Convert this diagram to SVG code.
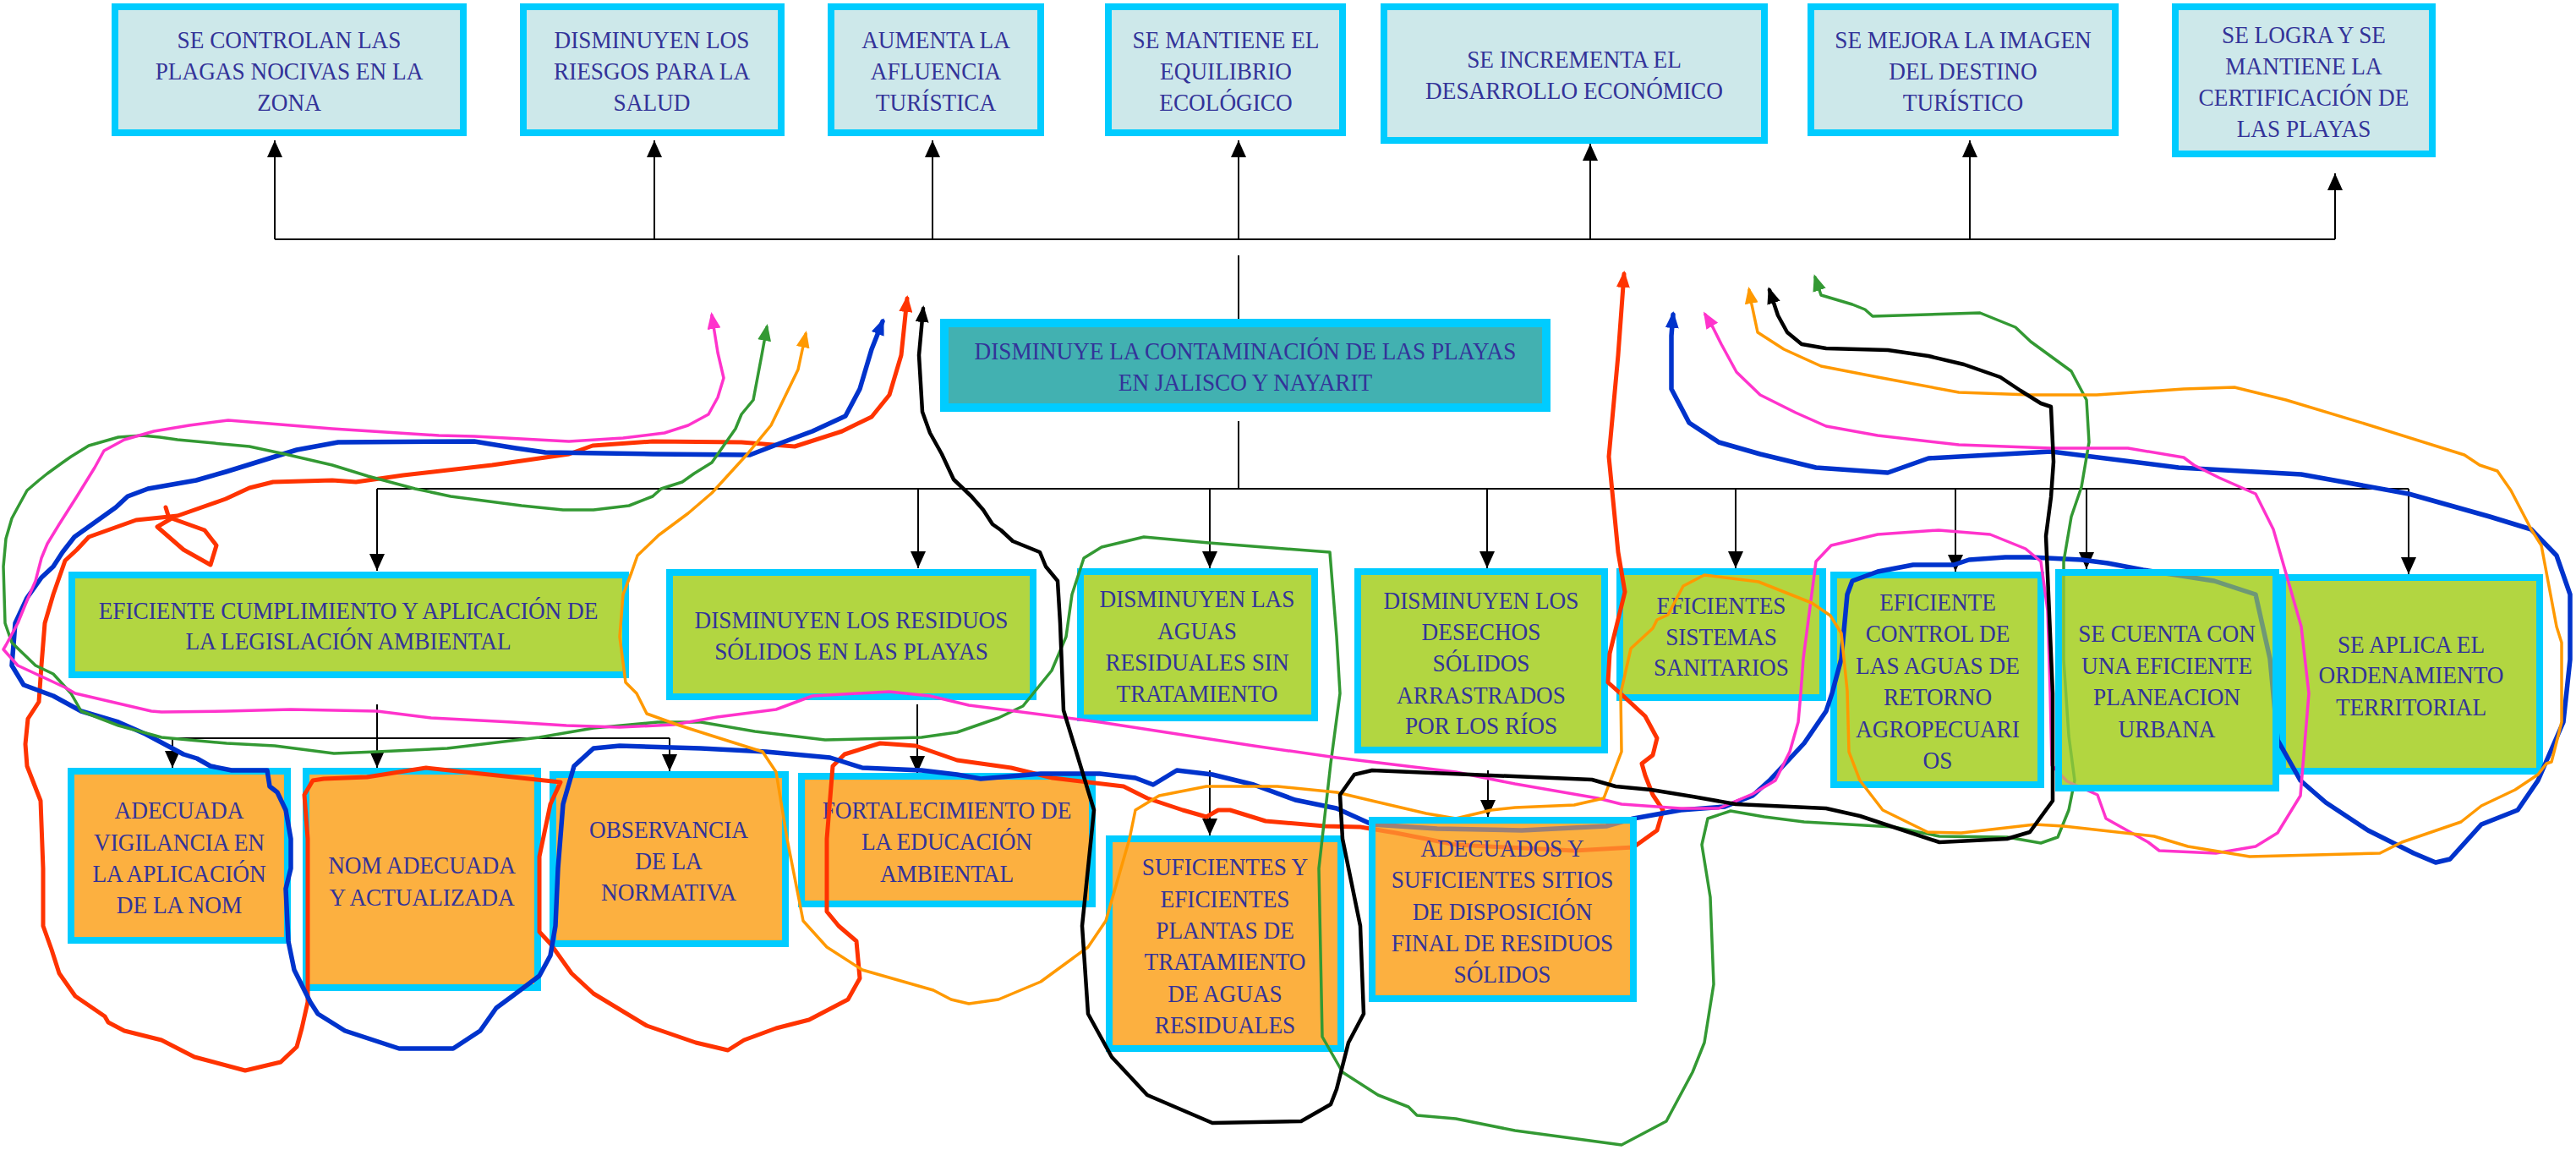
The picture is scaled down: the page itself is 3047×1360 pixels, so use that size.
<svg xmlns="http://www.w3.org/2000/svg" width="3047" height="1360" viewBox="0 0 3047 1360">
<style>
.t{font-family:"Liberation Serif","Times New Roman",serif;font-size:29px;fill:#333399;text-anchor:middle}
.bt{fill:#cde8ea;stroke:#00ccff;stroke-width:8}
.bc{fill:#42b1b1;stroke:#00ccff;stroke-width:10}
.bg{fill:#b2d641;stroke:#00ccff;stroke-width:8}
.bo{fill:#fcb040;stroke:#00ccff;stroke-width:8}
.bgt{fill:#b2d641;fill-opacity:0.62;stroke:#00ccff;stroke-width:8}
.bot{fill:#fcb040;fill-opacity:0.62;stroke:#00ccff;stroke-width:8}
.c{stroke:#000;stroke-width:2;fill:none}
.ca{stroke:#000;stroke-width:2;fill:none;marker-end:url(#ah)}
.lp{fill:none;stroke-linejoin:round;stroke-linecap:round}
</style>
<defs>
<marker id="ah" viewBox="0 0 20 18" refX="20" refY="9" markerWidth="20" markerHeight="18" markerUnits="userSpaceOnUse" orient="auto"><path d="M0,0 L20,9 L0,18 z" fill="#000"/></marker>
<marker id="mr" viewBox="0 0 20 16" refX="16" refY="8" markerWidth="20" markerHeight="16" markerUnits="userSpaceOnUse" orient="auto-start-reverse"><path d="M0,0 L20,8 L0,16 z" fill="#ff3300"/></marker>
<marker id="mb" viewBox="0 0 20 16" refX="16" refY="8" markerWidth="20" markerHeight="16" markerUnits="userSpaceOnUse" orient="auto-start-reverse"><path d="M0,0 L20,8 L0,16 z" fill="#0033cc"/></marker>
<marker id="mg" viewBox="0 0 20 16" refX="16" refY="8" markerWidth="20" markerHeight="16" markerUnits="userSpaceOnUse" orient="auto-start-reverse"><path d="M0,0 L20,8 L0,16 z" fill="#339933"/></marker>
<marker id="mp" viewBox="0 0 20 16" refX="16" refY="8" markerWidth="20" markerHeight="16" markerUnits="userSpaceOnUse" orient="auto-start-reverse"><path d="M0,0 L20,8 L0,16 z" fill="#ff33cc"/></marker>
<marker id="mo" viewBox="0 0 20 16" refX="16" refY="8" markerWidth="20" markerHeight="16" markerUnits="userSpaceOnUse" orient="auto-start-reverse"><path d="M0,0 L20,8 L0,16 z" fill="#ff9900"/></marker>
<marker id="mk" viewBox="0 0 20 16" refX="16" refY="8" markerWidth="20" markerHeight="16" markerUnits="userSpaceOnUse" orient="auto-start-reverse"><path d="M0,0 L20,8 L0,16 z" fill="#000"/></marker>
</defs>
<rect width="3047" height="1360" fill="#fff"/>

<g id="connectors">
<path class="c" d="M325,283 H2762" stroke-width="3"/>
<path class="ca" d="M325,283 V166"/>
<path class="ca" d="M774,283 V166"/>
<path class="ca" d="M1103,283 V166"/>
<path class="ca" d="M1465,283 V166"/>
<path class="ca" d="M1881,283 V170"/>
<path class="ca" d="M2330,283 V166"/>
<path class="ca" d="M2762,283 V205"/>
<path class="c" d="M1465,302 V377 M1465,498 V578"/>
<path class="c" d="M446,578 H2849" stroke-width="3"/>
<path class="ca" d="M446,578 V675"/>
<path class="ca" d="M1086,578 V672"/>
<path class="ca" d="M1431,578 V672"/>
<path class="ca" d="M1759,578 V672"/>
<path class="ca" d="M2053,578 V672"/>
<path class="ca" d="M2313,578 V676"/>
<path class="ca" d="M2468,578 V673"/>
<path class="ca" d="M2849,578 V679"/>
<path class="ca" d="M446,833 V908"/>
<path class="c" d="M204,873 H792"/>
<path class="ca" d="M204,873 V908"/>
<path class="ca" d="M792,873 V912"/>
<path class="ca" d="M1085,833 V914"/>
<path class="ca" d="M1431,911 V988"/>
<path class="ca" d="M1760,911 V966"/>
</g>

<g id="n-t1"><rect class="bt" x="136" y="8" width="412" height="149"/><g transform="translate(342 0) scale(0.94 1)"><text class="t"><tspan x="0" y="57">SE CONTROLAN LAS</tspan><tspan x="0" y="94">PLAGAS NOCIVAS EN LA</tspan><tspan x="0" y="131">ZONA</tspan></text></g></g>
<g id="n-t2"><rect class="bt" x="619" y="8" width="305" height="149"/><g transform="translate(771 0) scale(0.94 1)"><text class="t"><tspan x="0" y="57">DISMINUYEN LOS</tspan><tspan x="0" y="94">RIESGOS PARA LA</tspan><tspan x="0" y="131">SALUD</tspan></text></g></g>
<g id="n-t3"><rect class="bt" x="983" y="8" width="248" height="149"/><g transform="translate(1107 0) scale(0.94 1)"><text class="t"><tspan x="0" y="57">AUMENTA LA</tspan><tspan x="0" y="94">AFLUENCIA</tspan><tspan x="0" y="131">TURÍSTICA</tspan></text></g></g>
<g id="n-t4"><rect class="bt" x="1311" y="8" width="277" height="149"/><g transform="translate(1450 0) scale(0.94 1)"><text class="t"><tspan x="0" y="57">SE MANTIENE EL</tspan><tspan x="0" y="94">EQUILIBRIO</tspan><tspan x="0" y="131">ECOLÓGICO</tspan></text></g></g>
<g id="n-t5"><rect class="bt" x="1637" y="8" width="450" height="158"/><g transform="translate(1862 0) scale(0.94 1)"><text class="t"><tspan x="0" y="80">SE INCREMENTA EL</tspan><tspan x="0" y="117">DESARROLLO ECONÓMICO</tspan></text></g></g>
<g id="n-t6"><rect class="bt" x="2142" y="8" width="360" height="149"/><g transform="translate(2322 0) scale(0.94 1)"><text class="t"><tspan x="0" y="57">SE MEJORA LA IMAGEN</tspan><tspan x="0" y="94">DEL DESTINO</tspan><tspan x="0" y="131">TURÍSTICO</tspan></text></g></g>
<g id="n-t7"><rect class="bt" x="2573" y="8" width="304" height="174"/><g transform="translate(2725 0) scale(0.94 1)"><text class="t"><tspan x="0" y="51">SE LOGRA Y SE</tspan><tspan x="0" y="88">MANTIENE LA</tspan><tspan x="0" y="125">CERTIFICACIÓN DE</tspan><tspan x="0" y="162">LAS PLAYAS</tspan></text></g></g>

<g id="n-core"><rect class="bc" x="1117" y="382" width="712" height="100"/><g transform="translate(1473 0) scale(0.94 1)"><text class="t"><tspan x="0" y="425">DISMINUYE LA CONTAMINACIÓN DE LAS PLAYAS</tspan><tspan x="0" y="462">EN JALISCO Y NAYARIT</tspan></text></g></g>

<g id="n-a"><rect class="bg" x="85" y="680" width="655" height="118"/><g transform="translate(412 0) scale(0.94 1)"><text class="t"><tspan x="0" y="732">EFICIENTE CUMPLIMIENTO Y APLICACIÓN DE</tspan><tspan x="0" y="768">LA LEGISLACIÓN AMBIENTAL</tspan></text></g></g>
<g id="n-b"><rect class="bg" x="792" y="677" width="430" height="147"/><g transform="translate(1007 0) scale(0.94 1)"><text class="t"><tspan x="0" y="743">DISMINUYEN LOS RESIDUOS</tspan><tspan x="0" y="780">SÓLIDOS EN LAS PLAYAS</tspan></text></g></g>
<g id="n-c"><rect class="bg" x="1278" y="676" width="277" height="173"/><g transform="translate(1416 0) scale(0.94 1)"><text class="t"><tspan x="0" y="718">DISMINUYEN LAS</tspan><tspan x="0" y="756">AGUAS</tspan><tspan x="0" y="793">RESIDUALES SIN</tspan><tspan x="0" y="830">TRATAMIENTO</tspan></text></g></g>
<g id="n-d"><rect class="bg" x="1606" y="676" width="292" height="211"/><g transform="translate(1752 0) scale(0.94 1)"><text class="t"><tspan x="0" y="720">DISMINUYEN LOS</tspan><tspan x="0" y="757">DESECHOS</tspan><tspan x="0" y="794">SÓLIDOS</tspan><tspan x="0" y="832">ARRASTRADOS</tspan><tspan x="0" y="868">POR LOS RÍOS</tspan></text></g></g>
<g id="n-e"><rect class="bg" x="1916" y="676" width="240" height="149"/><g transform="translate(2036 0) scale(0.94 1)"><text class="t"><tspan x="0" y="726">EFICIENTES</tspan><tspan x="0" y="763">SISTEMAS</tspan><tspan x="0" y="799">SANITARIOS</tspan></text></g></g>
<g id="n-f"><rect class="bg" x="2169" y="680" width="245" height="248"/><g transform="translate(2292 0) scale(0.94 1)"><text class="t"><tspan x="0" y="722">EFICIENTE</tspan><tspan x="0" y="759">CONTROL DE</tspan><tspan x="0" y="797">LAS AGUAS DE</tspan><tspan x="0" y="834">RETORNO</tspan><tspan x="0" y="872">AGROPECUARI</tspan><tspan x="0" y="909">OS</tspan></text></g></g>
<g id="n-h"><rect class="bg" x="2700" y="683" width="304" height="229"/><g transform="translate(2852 0) scale(0.94 1)"><text class="t"><tspan x="0" y="772">SE APLICA EL</tspan><tspan x="0" y="808">ORDENAMIENTO</tspan><tspan x="0" y="846">TERRITORIAL</tspan></text></g></g>

<g id="n-r1"><rect class="bo" x="84" y="912" width="256" height="200"/><g transform="translate(212 0) scale(0.94 1)"><text class="t"><tspan x="0" y="968">ADECUADA</tspan><tspan x="0" y="1006">VIGILANCIA EN</tspan><tspan x="0" y="1043">LA APLICACIÓN</tspan><tspan x="0" y="1080">DE LA NOM</tspan></text></g></g>
<g id="n-r2"><rect class="bo" x="362" y="912" width="274" height="256"/><g transform="translate(499 0) scale(0.94 1)"><text class="t"><tspan x="0" y="1033">NOM ADECUADA</tspan><tspan x="0" y="1071">Y ACTUALIZADA</tspan></text></g></g>
<g id="n-r3"><rect class="bo" x="654" y="916" width="275" height="200"/><g transform="translate(791 0) scale(0.94 1)"><text class="t"><tspan x="0" y="991">OBSERVANCIA</tspan><tspan x="0" y="1028">DE LA</tspan><tspan x="0" y="1065">NORMATIVA</tspan></text></g></g>
<g id="n-r4"><rect class="bo" x="948" y="918" width="344" height="151"/><g transform="translate(1120 0) scale(0.94 1)"><text class="t"><tspan x="0" y="968">FORTALECIMIENTO DE</tspan><tspan x="0" y="1005">LA EDUCACIÓN</tspan><tspan x="0" y="1043">AMBIENTAL</tspan></text></g></g>
<g id="n-r5"><rect class="bo" x="1312" y="992" width="274" height="248"/><g transform="translate(1449 0) scale(0.94 1)"><text class="t"><tspan x="0" y="1035">SUFICIENTES Y</tspan><tspan x="0" y="1073">EFICIENTES</tspan><tspan x="0" y="1110">PLANTAS DE</tspan><tspan x="0" y="1147">TRATAMIENTO</tspan><tspan x="0" y="1185">DE AGUAS</tspan><tspan x="0" y="1222">RESIDUALES</tspan></text></g></g>

<g id="backdrops">
<rect x="2435" y="677" width="257" height="255" fill="#b2d641"/>
<rect x="1623" y="970" width="309" height="211" fill="#fcb040"/>
</g>

<g id="loops">
<path class="lp" stroke="#ff3300" stroke-width="5" marker-start="url(#mr)" marker-end="url(#mr)" d="M1073,353 L1066,420 1052,467 1031,493 996,510 940,528 877,523 772,522 701,527 673,537 582,550 477,562 421,570 393,568 323,570 295,577 267,590 210,610 161,615 105,635 91,650 77,663 63,703 53,737 49,787 46,830 33,850 30,880 32,906 48,947 51,1027 51,1095 61,1123 70,1151 89,1178 124,1202 128,1209 147,1219 191,1230 230,1250 290,1266 332,1256 351,1238 357,1216 364,1185 364,1095 364,992 360,940 370,923 383,921 434,919 504,908 663,925 651,951 638,1013 638,1102 651,1116 676,1151 702,1175 765,1213 823,1233 861,1242 880,1230 918,1216 957,1206 1003,1182 1017,1157 1013,1113 992,1095 978,1078 978,992 985,906 999,892 1041,879 1083,882 1132,899 1196,908 1245,920 1329,930 1357,944 1399,958 1427,966 1441,958 1455,958 1497,971 1567,977 1609,978 1651,985 1722,999 1862,1006 1932,1002 1960,982 1967,958 1955,940 1946,917 1942,903 1955,893 1960,873 1946,847 1920,823 1902,807 1904,773 1922,700 1914,653 1903,540 1914,420 1921,324"/>
<path class="lp" stroke="#ff3300" stroke-width="5" d="M196,600 L200,613 M203,613 L186,623 217,650 249,668 256,645 242,627 Z"/>
<path class="lp" stroke="#0033cc" stroke-width="5.5" marker-start="url(#mb)" marker-end="url(#mb)" d="M1044,380 L1031,413 1017,460 1000,492 961,510 926,523 887,538 772,537 645,535 610,530 561,522 400,523 351,532 309,545 267,558 232,568 175,578 151,587 137,600 123,610 88,635 74,653 63,670 49,683 32,707 18,737 14,787 28,810 63,823 96,841 140,854 172,868 217,892 233,897 249,906 274,911 316,911 319,930 328,937 338,958 344,992 344,1027 338,1051 341,1113 348,1147 367,1185 376,1199 408,1219 472,1240 536,1240 568,1219 587,1192 606,1178 638,1154 651,1130 657,1095 660,1027 666,951 679,906 702,885 733,882 829,885 906,889 982,896 1020,908 1090,911 1132,916 1160,921 1231,915 1301,915 1343,920 1364,928 1392,911 1434,916 1483,928 1532,946 1581,956 1623,975 1700,980 1800,982 1900,977 1932,968 1988,958 2040,954 2073,941 2093,923 2134,879 2160,841 2167,820 2178,779 2185,703 2191,687 2221,676 2263,668 2311,668 2329,662 2372,659 2402,659 2462,662 2493,666 2535,674 2619,687 2668,703 2685,779 2694,875 2721,923 2751,949 2801,982 2855,1009 2881,1020 2898,1016 2935,975 2978,958 3002,923 3032,854 3040,780 3040,703 3024,657 2994,626 2945,611 2849,584 2722,561 2577,553 2426,534 2281,542 2233,559 2148,553 2082,537 2033,523 1998,500 1977,460 1977,397 1979,372"/>
<path class="lp" stroke="#339933" stroke-width="3.5" marker-start="url(#mg)" marker-end="url(#mg)" d="M907,387 L901,420 891,473 877,490 870,507 856,527 842,547 821,560 807,570 782,578 772,587 744,598 702,603 666,603 617,598 533,587 491,578 435,563 393,550 337,537 295,528 210,520 189,517 168,515 140,517 105,527 84,540 74,547 56,560 46,568 32,580 21,600 14,613 7,637 4,670 6,737 14,760 42,787 63,797 84,820 96,841 140,858 191,872 268,879 325,882 395,891 446,889 529,885 638,872 702,861 778,854 829,854 893,865 976,875 1090,872 1132,866 1181,849 1210,835 1244,793 1261,753 1268,703 1282,660 1303,647 1353,635 1430,642 1573,653 1581,753 1585,820 1574,903 1560,1027 1564,1226 1588,1268 1630,1295 1666,1309 1676,1319 1722,1323 1792,1337 1918,1354 1971,1326 2002,1268 2016,1233 2027,1164 2023,1061 2013,999 2020,968 2047,959 2087,966 2134,972 2240,978 2294,989 2374,990 2414,997 2434,990 2447,958 2454,923 2447,870 2441,780 2441,664 2450,611 2462,576 2471,523 2468,473 2450,439 2402,404 2384,387 2342,370 2215,374 2206,366 2191,360 2154,349 2147,328"/>
<path class="lp" stroke="#ff33cc" stroke-width="3.5" marker-start="url(#mp)" marker-end="url(#mp)" d="M842,373 L849,417 856,447 849,470 838,490 814,503 786,512 737,518 673,522 561,516 519,515 393,507 270,497 224,503 182,510 147,520 123,533 112,553 91,587 70,620 56,643 49,660 42,687 32,710 21,737 7,763 4,768 21,787 77,813 89,820 179,841 191,842 268,841 344,839 446,841 510,849 606,854 670,858 733,860 797,857 848,848 918,839 961,823 1052,818 1100,823 1146,834 1301,854 1483,882 1581,896 1722,913 1792,927 1890,944 1918,951 1988,956 2033,956 2073,939 2100,923 2117,889 2127,854 2130,820 2133,779 2148,664 2166,645 2221,632 2293,627 2354,632 2396,649 2414,664 2422,722 2425,818 2427,905 2445,924 2481,940 2491,968 2541,996 2554,1006 2621,1009 2668,1001 2694,985 2721,941 2731,820 2722,741 2689,626 2668,584 2625,565 2595,550 2583,541 2517,530 2426,530 2317,526 2221,515 2160,504 2124,488 2082,467 2054,440 2036,407 2026,387 2017,372"/>
<path class="lp" stroke="#ff9900" stroke-width="3.5" marker-start="url(#mo)" marker-end="url(#mo)" d="M953,395 L944,437 912,503 884,537 842,583 814,607 779,633 754,657 747,677 737,703 733,753 740,807 753,820 765,844 804,858 848,872 902,889 918,913 931,992 950,1089 978,1120 1020,1147 1104,1171 1125,1182 1146,1187 1181,1182 1231,1161 1287,1120 1308,1089 1336,992 1343,958 1371,941 1427,930 1511,930 1581,937 1623,947 1687,962 1722,968 1764,958 1792,955 1862,952 1897,944 1918,889 1917,820 1929,767 1955,743 1960,733 1973,727 1991,693 2016,680 2080,688 2143,713 2165,728 2178,749 2185,817 2187,889 2200,923 2227,958 2280,984 2320,985 2407,975 2441,977 2548,989 2588,1001 2661,1013 2815,1009 2841,996 2911,972 2935,953 2975,934 3002,916 3012,903 3018,901 3030,854 3030,760 3024,741 3006,645 2994,626 2970,580 2954,557 2933,550 2915,538 2800,502 2704,473 2643,458 2583,460 2480,467 2402,467 2317,464 2221,446 2154,433 2110,413 2079,393 2072,360 2069,343"/>
<path class="lp" stroke="#000" stroke-width="4.5" marker-start="url(#mk)" marker-end="url(#mk)" d="M1092,365 L1087,420 1091,487 1100,512 1114,537 1128,567 1149,587 1163,603 1174,620 1184,627 1198,640 1230,653 1237,670 1251,687 1254,737 1258,840 1273,889 1294,958 1280,1095 1287,1199 1315,1250 1357,1295 1434,1328 1539,1326 1574,1306 1581,1288 1595,1233 1613,1199 1609,1095 1588,992 1585,940 1602,916 1623,911 1883,922 1911,930 1953,934 2002,942 2053,951 2160,956 2200,965 2294,996 2374,992 2401,984 2428,947 2428,905 2428,820 2423,703 2420,634 2426,588 2429,546 2426,481 2414,477 2390,462 2366,446 2323,431 2281,421 2233,414 2160,412 2131,407 2114,393 2103,373 2093,343"/>
</g>

<g id="n-g"><rect class="bgt" x="2435" y="677" width="257" height="255"/><g transform="translate(2563 0) scale(0.94 1)"><text class="t"><tspan x="0" y="759">SE CUENTA CON</tspan><tspan x="0" y="797">UNA EFICIENTE</tspan><tspan x="0" y="834">PLANEACION</tspan><tspan x="0" y="872">URBANA</tspan></text></g></g>
<g id="n-r6"><rect class="bot" x="1623" y="970" width="309" height="211"/><g transform="translate(1777 0) scale(0.94 1)"><text class="t"><tspan x="0" y="1013">ADECUADOS Y</tspan><tspan x="0" y="1050">SUFICIENTES SITIOS</tspan><tspan x="0" y="1088">DE DISPOSICIÓN</tspan><tspan x="0" y="1125">FINAL DE RESIDUOS</tspan><tspan x="0" y="1162">SÓLIDOS</tspan></text></g></g>
</svg>
